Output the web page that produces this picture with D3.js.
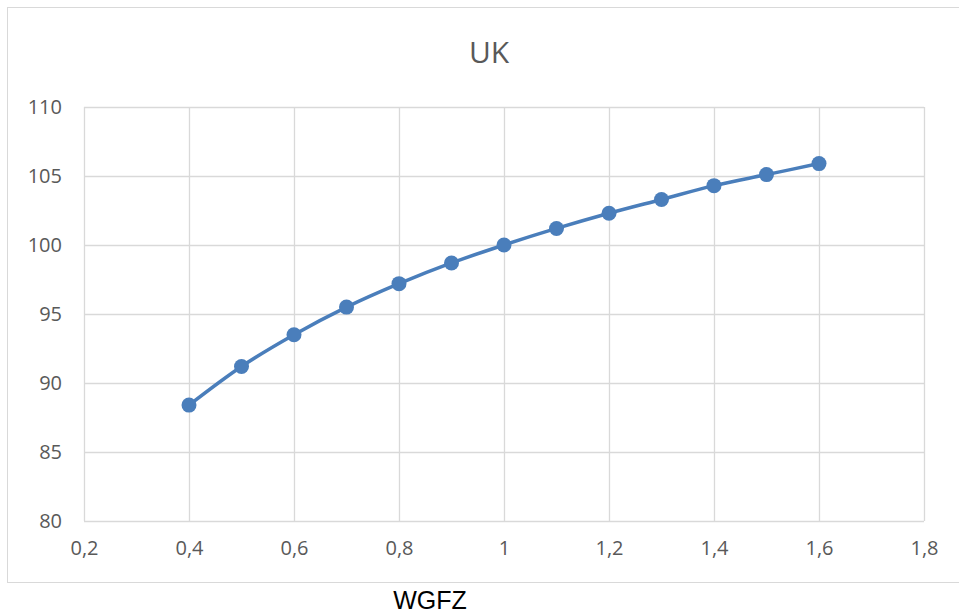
<!DOCTYPE html>
<html><head><meta charset="utf-8">
<script src="https://cdn.jsdelivr.net/npm/d3@7"></script>
<style>body{margin:0;background:#fff;} svg{display:block;}</style>
</head><body>
<svg id="chart" width="959" height="614"></svg>
<script>
const xValues = [0.4,0.5,0.6,0.7,0.8,0.9,1.0,1.1,1.2,1.3,1.4,1.5,1.6];
const yValues = [88.4,91.2,93.5,95.5,97.2,98.7,100,101.2,102.3,103.3,104.3,105.1,105.9];
const xTicks = [0.2,0.4,0.6,0.8,1.0,1.2,1.4,1.6,1.8];
const yTicks = [80,85,90,95,100,105,110];
const title = "UK";
const xTitle = "WGFZ";

const svg = d3.select("#chart");
const m = {left:84, right:924, top:107, bottom:521};
const x = d3.scaleLinear().domain([0.2,1.8]).range([m.left,m.right]);
const y = d3.scaleLinear().domain([80,110]).range([m.bottom,m.top]);
const fmt = v => d3.format("~g")(v).replace(".", ",");
const font = "'Open Sans', Lato, sans-serif";

svg.append("rect").attr("x",7.5).attr("y",7.5).attr("width",960).attr("height",575)
  .attr("fill","#fff").attr("stroke","#d9d9d9").attr("stroke-width",1);

svg.append("text").attr("x",489).attr("y",63).attr("text-anchor","middle")
  .attr("font-family",font).attr("font-size",30).attr("fill","#595959").text(title);

const g = svg.append("g");
g.selectAll(".hg").data(yTicks).join("line")
  .attr("x1",m.left).attr("x2",m.right).attr("y1",d=>Math.round(y(d))+0.5).attr("y2",d=>Math.round(y(d))+0.5)
  .attr("stroke","#d9d9d9").attr("stroke-width",1.3);
g.selectAll(".vg").data(xTicks).join("line")
  .attr("y1",m.top).attr("y2",m.bottom).attr("x1",d=>Math.round(x(d))+0.5).attr("x2",d=>Math.round(x(d))+0.5)
  .attr("stroke","#d9d9d9").attr("stroke-width",1.3);

const yAxis = d3.axisLeft(y).tickValues(yTicks).tickSize(0).tickPadding(22).tickFormat(fmt);
const ya = svg.append("g").attr("transform",`translate(${m.left},0)`).call(yAxis);
ya.select(".domain").remove();
ya.selectAll("text").attr("font-family",font).attr("font-size",20).attr("fill","#595959");

const xAxis = d3.axisBottom(x).tickValues(xTicks).tickSize(0).tickPadding(20).tickFormat(fmt);
const xa = svg.append("g").attr("transform",`translate(0,${m.bottom})`).call(xAxis);
xa.select(".domain").remove();
xa.selectAll("text").attr("font-family",font).attr("font-size",20).attr("fill","#595959");

const data = xValues.map((v,i)=>({x:v,y:yValues[i]}));
svg.append("path").datum(data)
  .attr("d", d3.line().x(d=>x(d.x)).y(d=>y(d.y)).curve(d3.curveMonotoneX))
  .attr("fill","none").attr("stroke","#4a7ebb").attr("stroke-width",3.5).attr("stroke-linejoin","round");
svg.selectAll(".pt").data(data).join("circle")
  .attr("cx",d=>x(d.x)).attr("cy",d=>y(d.y)).attr("r",7.5).attr("fill","#4a7ebb");

svg.append("text").attr("x",430).attr("y",609).attr("text-anchor","middle")
  .attr("font-family","'Liberation Sans', Arial, sans-serif").attr("font-size",25).attr("fill","#000").text(xTitle);
</script>
</body></html>
